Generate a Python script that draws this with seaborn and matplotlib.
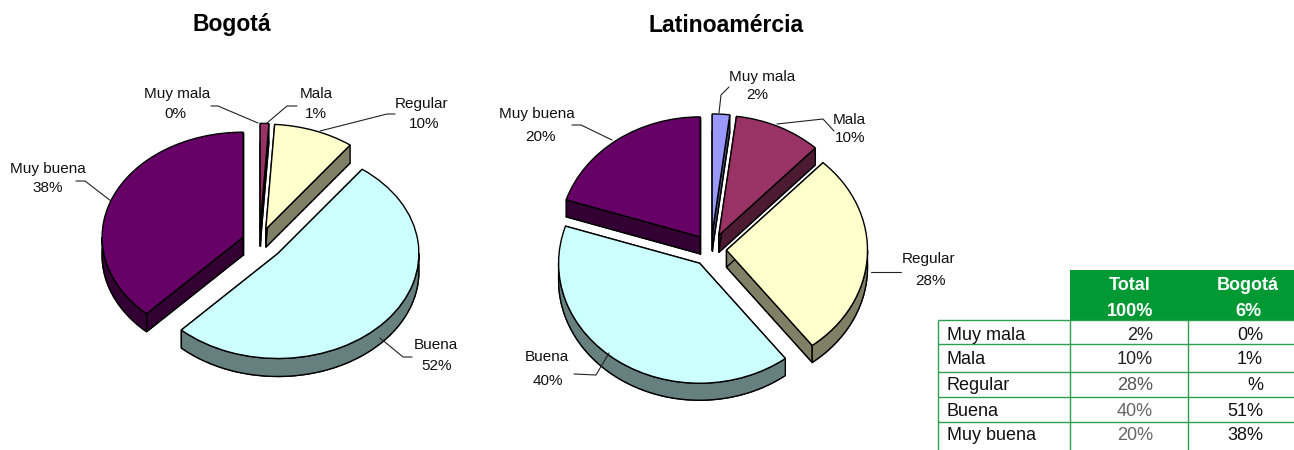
import numpy as np
import matplotlib
matplotlib.use("Agg")
import matplotlib.pyplot as plt
from matplotlib.patches import Wedge, Polygon
import seaborn as sns

# ---------- data ----------
categories = ["Muy mala", "Mala", "Regular", "Buena", "Muy buena"]
bogota_values = [0, 1, 9.2, 51.8, 38]
latam_values = [2, 10, 27.6, 40.4, 20]
bogota_labels = ["0%", "1%", "10%", "52%", "38%"]
latam_labels = ["2%", "10%", "28%", "40%", "20%"]
table_total = ["2%", "10%", "28%", "40%", "20%"]
table_bogota = ["0%", "1%", "%", "51%", "38%"]
table_header = [("Total", "100%"), ("Bogotá", "6%")]
titles = ["Bogotá", "Latinoamércia"]

# ---------- style ----------
sns.set_theme(style="white")
palette = sns.color_palette(["#9999FF", "#993366", "#FFFFCC", "#CCFFFF", "#660066"])
walls = [tuple(0.5 * c for c in col) for col in palette]
plt.rcParams["font.family"] = ["Liberation Sans", "DejaVu Sans"]
label_fs = 11
table_fs = 13

W, H = 1294, 450
fig = plt.figure(figsize=(W / 100, H / 100), dpi=100)
bogota_explode = [0.13, 0.13, 0.13, 0.17, 0.125]
latam_explode = [0.13, 0.13, 0.11, 0.14, 0.13]


def draw_pie(values, explode, cx, cy, a, b, depth):
    pad = 1.4
    ax = fig.add_axes([(cx - pad * a) / W, 1 - (cy + pad * b) / H,
                       2 * pad * a / W, 2 * pad * b / H])
    wedges, _ = ax.pie(values, colors=palette, startangle=90, counterclock=False,
                       explode=explode, radius=1,
                       wedgeprops=dict(edgecolor="black", linewidth=1.0, zorder=3))
    ax.set_aspect("auto")
    ax.set_xlim(-pad, pad)
    ax.set_ylim(-pad, pad)
    ax.axis("off")
    dy = depth / b
    for w, wall in zip(wedges, walls):
        t1, t2 = w.theta1, w.theta2
        if abs(t2 - t1) < 1e-6:
            w.set_visible(False)
            continue
        x0, y0 = w.center
        style = dict(facecolor=wall, edgecolor="black", linewidth=1.0, zorder=1)
        ax.add_patch(Wedge((x0, y0 - dy), w.r, t1, t2, **style))
        for t in (t1, t2):
            px, py = x0 + np.cos(np.radians(t)), y0 + np.sin(np.radians(t))
            ax.add_patch(Polygon([(x0, y0), (px, py), (px, py - dy), (x0, y0 - dy)], **style))
        for lo, hi in ((-180, 0), (180, 360)):
            s, e = max(t1, lo), min(t2, hi)
            if e > s:
                th = np.radians(np.linspace(s, e, 80))
                xs, ys = x0 + np.cos(th), y0 + np.sin(th)
                pts = np.r_[np.c_[xs, ys], np.c_[xs, ys - dy][::-1]]
                ax.add_patch(Polygon(pts, facecolor=wall, edgecolor="black",
                                     linewidth=1.0, zorder=2))
    return ax


draw_pie(bogota_values, bogota_explode, 259.5, 242, 141, 105, 18)
draw_pie(latam_values, latam_explode, 711, 249.5, 141, 120, 17)

# ---------- overlay in pixel space: titles, labels, leaders, table ----------
ov = fig.add_axes([0, 0, 1, 1], facecolor="none")
ov.set_xlim(0, W)
ov.set_ylim(H, 0)
ov.axis("off")

ov.text(232, 25, titles[0], ha="center", va="center", fontsize=16.5,
        fontweight="bold", color="black")
ov.text(726, 25, titles[1], ha="center", va="center", fontsize=16.6,
        fontweight="bold", color="black")

bog_pos = [((177, 94), (175, 114)), ((316, 94), (316, 114)), ((422, 104), (424, 124)),
           ((436, 345), (437, 366)), ((48, 169), (48, 188))]
lat_pos = [((762, 77), (757, 95)), ((849, 120), (850, 138)), ((929, 259), (930, 281)),
           ((547, 357), (548, 381)), ((537, 114), (540, 137))]
for vals, pos in ((bogota_labels, bog_pos), (latam_labels, lat_pos)):
    for n, v, (p1, p2) in zip(categories, vals, pos):
        ov.text(*p1, n, ha="center", va="center", fontsize=label_fs, color="#111111")
        ov.text(*p2, v, ha="center", va="center", fontsize=label_fs, color="#111111")

leaders = [
    [(211, 106), (218, 106), (258, 123)],
    [(297, 106), (287, 106), (267, 123)],
    [(395, 114), (387, 114), (320, 131)],
    [(76, 181), (85, 181), (111, 201)],
    [(412, 357), (403, 357), (380, 338)],
    [(729, 87), (721, 95), (719, 113)],
    [(834, 131), (823, 119), (777, 124)],
    [(901, 272), (871, 272)],
    [(572, 125), (581, 125), (612, 140)],
    [(574, 374), (596, 375), (609, 353)],
]
for seg in leaders:
    xs, ys = zip(*seg)
    ov.plot(xs, ys, color="#222222", lw=0.8, solid_joinstyle="miter")

# table
GREEN = "#009933"
LINE = "#2E9E50"
ov.fill_between([1070, 1294], 270, 319.5, color=GREEN, lw=0)
for (top, bottom), xc in zip(table_header, (1130, 1248)):
    ov.text(xc, 285, top, ha="center", va="center", color="white", fontsize=table_fs,
            fontweight="bold")
    ov.text(xc, 311, bottom, ha="center", va="center", color="white", fontsize=table_fs,
            fontweight="bold")
row_y = [319.5, 344, 372, 397, 422, 450]
text_y = [335, 360, 386, 411, 436]
for y in row_y[:-1]:
    ov.plot([938, 1294], [y, y], color=LINE, lw=1.0, solid_capstyle="butt")
for x in (938, 1070, 1188):
    ov.plot([x, x], [319.5, 450], color=LINE, lw=1.0, solid_capstyle="butt")
total_cols = ["#222222", "#222222", "#555555", "#666666", "#666666"]
for i, (n, t, b) in enumerate(zip(categories, table_total, table_bogota)):
    yc = text_y[i]
    ov.text(947, yc, n, ha="left", va="center", fontsize=table_fs, color="#111111")
    ov.text(1153, yc, t, ha="right", va="center", fontsize=table_fs, color=total_cols[i])
    ov.text(1263, yc, b, ha="right", va="center", fontsize=table_fs, color="#111111")

fig.savefig("out.png", dpi=100, facecolor="white")
